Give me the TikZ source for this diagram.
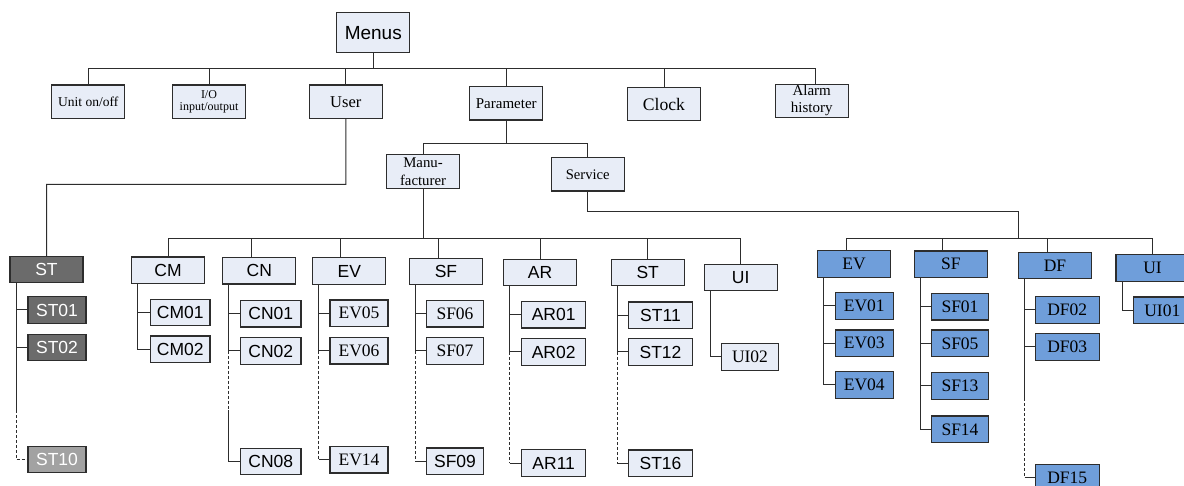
\documentclass[tikz,border=0pt]{standalone}
\usepackage{fontspec}
\setmainfont{Liberation Serif}
\setsansfont{Liberation Sans}
\usepackage{tikz}
\definecolor{boxfill}{RGB}{232,237,247}
\definecolor{bluefill}{RGB}{111,158,218}
\definecolor{darkfill}{RGB}{107,107,107}
\definecolor{greyfill}{RGB}{162,162,162}
\definecolor{edge}{RGB}{45,45,45}
\newcommand{\serifat}[2]{\rmfamily\fontsize{#1}{#2}\selectfont}
\newcommand{\sansat}[2]{\sffamily\fontsize{#1}{#2}\selectfont}
\tikzstyle{menu}=[draw=edge, line width=1.2pt, fill=boxfill, inner sep=0, outer sep=0]
\tikzstyle{topbox}=[menu, minimum width=73pt, minimum height=33.3pt]
\tikzstyle{groupbox}=[menu, minimum width=73pt, minimum height=26.3pt]
\tikzstyle{leafbox}=[menu, minimum width=58pt, minimum height=26.5pt]
\tikzstyle{wideleaf}=[leafbox, minimum width=64pt]
\tikzstyle{sans}=[font=\sansat{17.5}{17.5}]
\tikzstyle{roman}=[font=\serifat{17.5}{17.5}]
\tikzstyle{service}=[fill=bluefill]
\tikzstyle{userbox}=[fill=darkfill, text=white]
\tikzstyle{link}=[draw=edge, line width=1pt]
\tikzstyle{more}=[link, dash pattern=on 3pt off 2pt]
\tikzstyle{menutree}=[x=1pt, y=-1pt]

\begin{document}
\begin{tikzpicture}[menutree]
    \useasboundingbox[fill=white] (0,0) rectangle (1184,486);
    % top level
    \node[topbox, minimum height=40pt, font=\sansat{19}{19}]            (Menus)   at (373.3, 32.7)  {Menus};
    \node[topbox, font=\serifat{13.5}{13.5}]                            (Unit)    at (88.3, 101.7)  {Unit on/off};
    \node[topbox, align=center, font=\serifat{12}{12.5}]                (IO)      at (209, 101.7)   {I/O\\input/output};
    \node[topbox, font=\serifat{16.5}{16.5}]                            (User)    at (345.8, 101.7) {User};
    \node[topbox, font=\serifat{15}{15}]                                (Param)   at (506.3, 103.3) {Parameter};
    \node[topbox, font=\serifat{17.6}{17.6}]                            (Clock)   at (664, 104)     {Clock};
    \node[topbox, align=center, font=\serifat{15}{17}]                  (Alarm)   at (811.7, 100.8) {Alarm\\history};
    \node[topbox, minimum height=34pt, align=center, font=\serifat{14.8}{18}] (Manu) at (423, 171.3) {Manu-\\facturer};
    \node[topbox, font=\serifat{14.6}{14.6}]                            (Service) at (587.7, 174.3) {Service};
    \coordinate (topbus)    at (373.3, 69);
    \coordinate (parambus)  at (506.3, 144);
    \coordinate (userbus)   at (46.7, 184.3);
    \coordinate (manubus)   at (423, 239);
    \coordinate (servknee)  at (1018.7, 211.7);
    \coordinate (servbus)   at (1018.7, 238.3);
    \draw[link] (Menus) -- (topbus);
    \draw[link] (Unit.north) |- (topbus);
    \draw[link] (IO.north) |- (topbus);
    \draw[link] (User.north) |- (topbus);
    \draw[link] (Param.north) |- (topbus);
    \draw[link] (Clock.north) |- (topbus);
    \draw[link] ([xshift=3.3pt]Alarm.north) |- (topbus);
    \draw[link] (Param) -- (parambus);
    \draw[link] (Manu.north) |- (parambus);
    \draw[link] (Service.north) |- (parambus);
    % groups
    \node[groupbox, userbox, sans]  (ST)  at (46.5, 269.7)  {ST};
    \node[groupbox, sans]           (CM)  at (168, 270.2)   {CM};
    \node[groupbox, sans]           (CN)  at (259.3, 270.8) {CN};
    \node[groupbox, sans]           (EV)  at (349.3, 271)   {EV};
    \node[groupbox, sans]           (SF)  at (446, 271.7)   {SF};
    \node[groupbox, sans]           (AR)  at (540, 272.3)   {AR};
    \node[groupbox, sans]           (STm) at (647.7, 272.7) {ST};
    \node[groupbox, sans]           (UI)  at (740.7, 277.5) {UI};
    \node[groupbox, service, roman] (EVs) at (854, 264)     {EV};
    \node[groupbox, service, roman] (SFs) at (950.8, 264.2) {SF};
    \node[groupbox, service, roman] (DFs) at (1055, 265.7)  {DF};
    \node[groupbox, service, roman] (UIs) at (1152.5, 268)  {UI};
    \draw[link] (User.south) |- (userbus) -- (ST.north);
    \draw[link] (Manu) -- (manubus);
    \draw[link] (CM.north) |- (manubus);
    \draw[link] ([xshift=-7.6pt]CN.north) |- (manubus);
    \draw[link] ([xshift=-8.6pt]EV.north) |- (manubus);
    \draw[link] ([xshift=-7.7pt]SF.north) |- (manubus);
    \draw[link] (AR.north) |- (manubus);
    \draw[link] (STm.north) |- (manubus);
    \draw[link] (UI.north) |- (manubus);
    \draw[link] (Service.south) |- (servknee) -- (servbus);
    \draw[link] ([xshift=-8pt]EVs.north) |- (servbus);
    \draw[link] ([xshift=-8pt]SFs.north) |- (servbus);
    \draw[link] ([xshift=-7.7pt]DFs.north) |- (servbus);
    \draw[link] (UIs.north) |- (servbus);
    % leaves
    \node[leafbox, userbox, sans]                  (ST01) at (57, 310)      {ST01};
    \node[leafbox, userbox, sans]                  (ST02) at (57, 347.5)    {ST02};
    \node[leafbox, userbox, fill=greyfill, sans]   (ST10) at (57, 459.5)    {ST10};
    \node[leafbox, minimum width=59.3pt, sans]     (CM01) at (180.3, 312.5) {CM01};
    \node[leafbox, minimum width=59.3pt, sans]     (CM02) at (180.3, 349.3) {CM02};
    \node[leafbox, minimum width=60.3pt, sans]     (CN01) at (270.8, 313.8) {CN01};
    \node[leafbox, minimum width=60.3pt, sans]     (CN02) at (270.8, 351)   {CN02};
    \node[leafbox, minimum width=60.3pt, sans]     (CN08) at (270.8, 461.5) {CN08};
    \node[leafbox, roman]                          (EV05) at (359, 313.3)   {EV05};
    \node[leafbox, roman]                          (EV06) at (359, 350.8)   {EV06};
    \node[leafbox, roman]                          (EV14) at (359, 459.8)   {EV14};
    \node[leafbox, minimum width=56.6pt, roman]    (SF06) at (455, 313.8)   {SF06};
    \node[leafbox, minimum width=56.6pt, roman]    (SF07) at (455, 351)     {SF07};
    \node[leafbox, minimum width=56.6pt, sans]     (SF09) at (455, 461.3)   {SF09};
    \node[wideleaf, sans]                          (AR01) at (553.7, 314.7) {AR01};
    \node[wideleaf, sans]                          (AR02) at (553.7, 352)   {AR02};
    \node[wideleaf, sans]                          (AR11) at (553.7, 463)   {AR11};
    \node[wideleaf, sans]                          (ST11) at (660.5, 315.3) {ST11};
    \node[wideleaf, sans]                          (ST12) at (660.5, 352)   {ST12};
    \node[wideleaf, sans]                          (ST16) at (660.5, 463.3) {ST16};
    \node[leafbox, minimum width=56.6pt, roman]    (UI02) at (750, 357)     {UI02};
    \node[leafbox, service, roman]                 (EV01) at (864.3, 306)   {EV01};
    \node[leafbox, service, roman]                 (EV03) at (864.3, 343.3) {EV03};
    \node[leafbox, service, roman]                 (EV04) at (864.3, 385)   {EV04};
    \node[leafbox, minimum width=56.6pt, service, roman] (SF01) at (960, 306.7) {SF01};
    \node[leafbox, minimum width=56.6pt, service, roman] (SF05) at (960, 343.3) {SF05};
    \node[leafbox, minimum width=56.6pt, service, roman] (SF13) at (960, 386)   {SF13};
    \node[leafbox, minimum width=56.6pt, service, roman] (SF14) at (960, 429.3) {SF14};
    \node[wideleaf, service, roman]                (DF02) at (1067.2, 310)   {DF02};
    \node[wideleaf, service, roman]                (DF03) at (1067.2, 347)   {DF03};
    \node[wideleaf, service, roman]                (DF15) at (1067.2, 477.6) {DF15};
    \node[leafbox, service, roman]                 (UI01) at (1162.3, 310.3) {UI01};
    % spines
    \foreach \g in {ST, CM, CN, EV, SF, AR, STm, UI, EVs, SFs, DFs, UIs}
        \coordinate (\g spine) at ([xshift=6pt]\g.south west);
    \draw[link] (STspine) |- (ST01.west);
    \draw[link] (STspine) |- (ST02.west);
    \draw[link] (STspine) -- (STspine |- 0,410);
    \draw[more] (STspine |- 0,410) |- (ST10.west);
    \draw[link] (CMspine) |- (CM01.west);
    \draw[link] (CMspine) |- (CM02.west);
    \draw[link] (CNspine) |- (CN01.west);
    \draw[link] (CNspine) |- (CN02.west);
    \draw[more] (CN02.west -| CNspine) -- (CNspine |- 0,410);
    \draw[link] (CNspine |- 0,410) |- (CN08.west);
    \draw[link] (EVspine) |- (EV05.west);
    \draw[link] (EVspine) |- (EV06.west);
    \draw[more] (EV06.west -| EVspine) -- (EV14.west -| EVspine);
    \draw[link] (EV14.west -| EVspine) -- (EV14.west);
    \draw[link] (SFspine) |- (SF06.west);
    \draw[link] (SFspine) |- (SF07.west);
    \draw[more] (SF07.west -| SFspine) -- (SF09.west -| SFspine);
    \draw[link] (SF09.west -| SFspine) -- (SF09.west);
    \draw[link] (ARspine) |- (AR01.west);
    \draw[link] (ARspine) |- (AR02.west);
    \draw[more] (AR02.west -| ARspine) -- (AR11.west -| ARspine);
    \draw[link] (AR11.west -| ARspine) -- (AR11.west);
    \draw[link] (STmspine) |- (ST11.west);
    \draw[link] (STmspine) |- (ST12.west);
    \draw[more] (ST12.west -| STmspine) -- (ST16.west -| STmspine);
    \draw[link] (ST16.west -| STmspine) -- (ST16.west);
    \draw[link] (UIspine) |- (UI02.west);
    \draw[link] (EVsspine) |- (EV01.west);
    \draw[link] (EVsspine) |- (EV03.west);
    \draw[link] (EVsspine) |- (EV04.west);
    \draw[link] (SFsspine) |- (SF01.west);
    \draw[link] (SFsspine) |- (SF05.west);
    \draw[link] (SFsspine) |- (SF13.west);
    \draw[link] (SFsspine) |- (SF14.west);
    \draw[link] (DFsspine) |- (DF02.west);
    \draw[link] (DFsspine) |- (DF03.west);
    \draw[link] (DFsspine) -- (DFsspine |- 0,398);
    \draw[more] (DFsspine |- 0,398) -- (DF15.west -| DFsspine);
    \draw[link] (DF15.west -| DFsspine) -- (DF15.west);
    \draw[link] (UIsspine) |- (UI01.west);
\end{tikzpicture}
\end{document}
